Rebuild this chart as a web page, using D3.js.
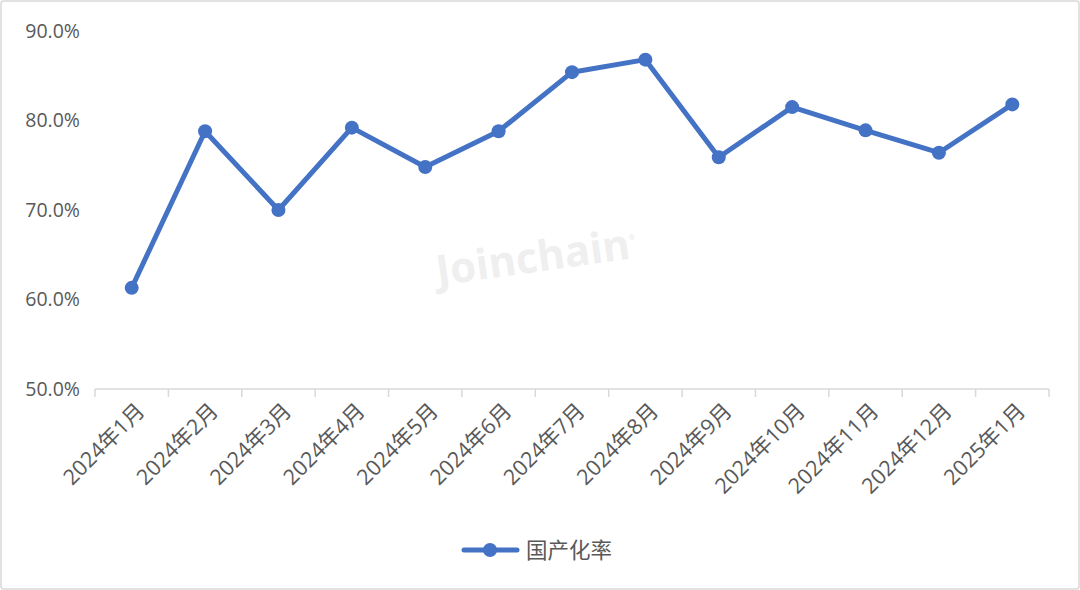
<!DOCTYPE html>
<html><head><meta charset="utf-8">
<script src="https://cdn.jsdelivr.net/npm/d3@7/dist/d3.min.js"></script>
<style>html,body{margin:0;padding:0;background:#fff;}svg{display:block;}</style>
</head><body>
<svg id="chart" width="1080" height="590"></svg>
<script>
const categories = ["2024年1月","2024年2月","2024年3月","2024年4月","2024年5月","2024年6月","2024年7月","2024年8月","2024年9月","2024年10月","2024年11月","2024年12月","2025年1月"];
const values = [61.3, 78.8, 70.0, 79.2, 74.8, 78.8, 85.4, 86.8, 75.9, 81.5, 78.9, 76.4, 81.8];
const yTicks = [50, 60, 70, 80, 90];
const seriesName = "国产化率";

(function(){
const svg = d3.select("#chart");
const W = 1080, H = 590;
const color = "#4472C4";
const font = "'Open Sans','Noto Sans CJK SC',sans-serif";

svg.append("rect").attr("x",1).attr("y",1).attr("width",W-2).attr("height",H-2)
  .attr("rx",3).attr("fill","#fff").attr("stroke","#d9d9d9").attr("stroke-width",1.5);

const pLeft = 95, pRight = 1049, pTop = 31, pBottom = 389;
const x = d3.scaleBand().domain(categories).range([pLeft, pRight]);
const y = d3.scaleLinear().domain([50, 90]).range([pBottom, pTop]);

// watermark
svg.append("text").attr("transform","translate(535,272) rotate(-8)")
  .attr("text-anchor","middle").attr("font-family","'Open Sans','DejaVu Sans',sans-serif")
  .attr("font-weight","bold").attr("font-size",42).attr("fill","#efefef").text("Joinchain");
svg.append("text").attr("transform","translate(629,240)")
  .attr("font-family","sans-serif").attr("font-size",8).attr("fill","#e6e6e6").text("®");

// y labels
svg.append("g").selectAll("text").data(yTicks).join("text")
  .attr("x",80).attr("y",d=>y(d)).attr("dy","0.35em").attr("text-anchor","end")
  .attr("font-family",font).attr("font-size",19.5).attr("fill","#595959")
  .text(d=>d.toFixed(1)+"%");

// x axis
const xAxis = d3.axisBottom(x).tickSize(8).tickFormat("");
const gx = svg.append("g").attr("transform",`translate(0,${pBottom})`).call(xAxis);
gx.select(".domain").remove();
gx.selectAll(".tick").remove();
gx.append("line").attr("x1",pLeft).attr("x2",pRight).attr("y1",0).attr("y2",0).attr("stroke","#d9d9d9").attr("stroke-width",1.5);
const bounds = categories.map(c=>x(c)).concat([pRight]);
gx.selectAll("line.tk").data(bounds).join("line").attr("class","tk")
  .attr("x1",d=>d).attr("x2",d=>d).attr("y1",0).attr("y2",8).attr("stroke","#d9d9d9").attr("stroke-width",1.5);
gx.selectAll("text.lbl").data(categories).join("text").attr("class","lbl")
  .attr("transform",d=>`translate(${x(d)+x.bandwidth()/2+9},${18}) rotate(-45)`)
  .attr("text-anchor","end").attr("dy","0.35em")
  .attr("font-family",font).attr("font-size",21.5).attr("fill","#595959").text(d=>d);

// line
const cx = c => x(c) + x.bandwidth()/2;
const line = d3.line().x((d,i)=>cx(categories[i])).y(d=>y(d));
svg.append("path").datum(values).attr("d",line).attr("fill","none")
  .attr("stroke",color).attr("stroke-width",5).attr("stroke-linejoin","round").attr("stroke-linecap","round");
svg.append("g").selectAll("circle").data(values).join("circle")
  .attr("cx",(d,i)=>cx(categories[i])).attr("cy",d=>y(d)).attr("r",7).attr("fill",color);

// legend
const lg = svg.append("g");
lg.append("line").attr("x1",464).attr("x2",517).attr("y1",550).attr("y2",550)
  .attr("stroke",color).attr("stroke-width",5).attr("stroke-linecap","round");
lg.append("circle").attr("cx",490).attr("cy",550).attr("r",7).attr("fill",color);
lg.append("text").attr("x",526).attr("y",550).attr("dy","0.35em")
  .attr("font-family","'Noto Sans CJK SC',sans-serif").attr("font-size",21.5).attr("fill","#595959").text(seriesName);
})();
</script>
</body></html>
